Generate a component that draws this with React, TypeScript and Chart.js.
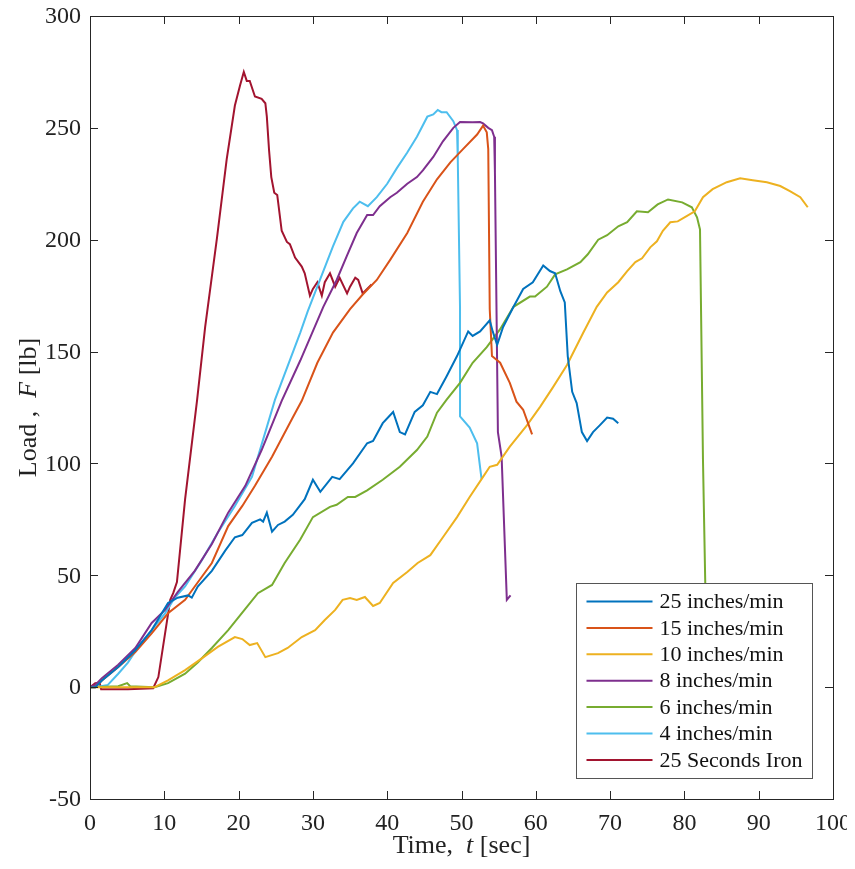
import React, { useEffect, useRef } from "react";
import { Chart, registerables } from "chart.js";

Chart.register(...registerables);

const seriesLabels = [
  "25 inches/min",
  "15 inches/min",
  "10 inches/min",
  "8 inches/min",
  "6 inches/min",
  "4 inches/min",
  "25 Seconds Iron",
];

const seriesColors = ["#0072BD", "#D95319", "#EDB120", "#7E2F8E", "#77AC30", "#4DBEEE", "#A2142F"];

const xTickValues = [0, 10, 20, 30, 40, 50, 60, 70, 80, 90, 100];
const yTickValues = [-50, 0, 50, 100, 150, 200, 250, 300];

const load25: [number, number][] = [
  [0, 0], [0.7, 0], [1.6, 3], [3.8, 9], [6.1, 16.5], [8.3, 25.5], [10.5, 37.6], [11.8, 40], [13.2, 41], [13.7, 40],
  [14.5, 45], [16.4, 52], [18.2, 61], [19.5, 67], [20.5, 68], [21.8, 73.4], [22.9, 75], [23.3, 74], [23.8, 78],
  [24.5, 69.5], [25.3, 72.5], [26.2, 74], [27.3, 77], [28.9, 84], [30, 92.7], [31, 87.3], [32.6, 94], [33.6, 93],
  [35.4, 100], [37.3, 109], [38.1, 110], [39.4, 118], [40.8, 123], [41.7, 114], [42.4, 113], [43.7, 123], [44.8, 126],
  [45.8, 132], [46.7, 131], [48, 139], [49.4, 148], [50.9, 159], [51.5, 157], [52.5, 159], [53.8, 164], [54.2, 159],
  [54.8, 153], [55.6, 161], [57, 170], [58.3, 178], [59.6, 181], [61, 188.5], [61.9, 186], [62.6, 185], [63.3, 177],
  [63.9, 172], [64.3, 148], [64.9, 132], [65.5, 127], [66.2, 114], [66.9, 110], [67.7, 114], [68.6, 117], [69.6, 120.5],
  [70.4, 120], [71.1, 118],
];

const load15: [number, number][] = [
  [0, 0], [0.7, 0], [1.6, 3], [3.8, 9], [6.1, 15.7], [8.3, 24], [10.5, 33], [12.8, 39], [14.1, 45], [16.4, 55.5],
  [18.6, 72], [20.5, 81], [22.2, 90], [24.5, 103], [27.2, 120], [28.5, 128], [30.6, 145], [32.7, 158.5], [35, 169],
  [36.7, 175.5], [38.6, 182], [40.4, 191], [42.7, 203], [44.8, 217], [46.7, 227], [48.5, 234.6], [50.2, 240.5],
  [52.1, 247], [52.9, 251], [53.4, 248], [53.6, 240.5], [53.8, 169], [54.1, 148], [55.2, 145], [56.5, 136],
  [57.4, 127.6], [58.3, 124], [59.5, 113],
];

const load10: [number, number][] = [
  [0, 0], [8.7, 0], [10.5, 3], [12.8, 7.6], [15.1, 13], [17.2, 18], [19.5, 22.4], [20.5, 21.5], [21.5, 18.8],
  [22.5, 19.7], [23.6, 13.4], [25.3, 15.2], [26.6, 17.5], [28.5, 22.4], [30.3, 25.5], [31.6, 30], [33, 34.5], [34, 39],
  [35, 39.8], [35.9, 39], [37, 40.3], [38.1, 36.3], [39, 37.6], [40.8, 46.6], [42.7, 51.5], [44.1, 55.5], [45.8, 59],
  [47.5, 67], [49.4, 76], [51.1, 85], [52.9, 94], [53.8, 98.5], [54.8, 99.4], [56.5, 107.5], [58.8, 117], [60.6, 125.4],
  [62.3, 134], [64.2, 144], [66.4, 158.5], [68.2, 170], [69.6, 176.4], [71.1, 181], [72.3, 186], [73.4, 190],
  [74.3, 191.7], [75.4, 196.6], [76.3, 199.3], [77.1, 204], [78.1, 207.8], [79.1, 208.2], [80.3, 210.5], [81.4, 212.7],
  [82.5, 219], [83.8, 222.6], [85.7, 225.7], [87.5, 227.5], [89.2, 226.6], [91.1, 225.7], [92.9, 224], [94.2, 221.7],
  [95.6, 219], [96.6, 214.5],
];

const load8: [number, number][] = [
  [0, 0], [0.7, 1], [1.6, 4], [3.8, 10], [6.1, 17.5], [8.3, 28.7], [10.1, 34.5], [11.8, 42.5], [14.1, 52], [16.4, 64],
  [18.6, 78], [20.9, 90], [23.1, 106], [25.8, 128], [28.3, 146], [31.4, 170], [33.2, 182], [34.6, 193], [35.9, 203],
  [37.3, 211], [38.1, 211], [39, 215], [40.4, 219], [41.3, 221], [42.7, 225], [44, 228], [44.8, 231], [46.2, 237],
  [47.5, 244], [48.9, 250], [49.8, 252.6], [51.5, 252.5], [52.5, 252.6], [52.9, 252], [53.6, 250], [54.1, 249],
  [54.4, 246], [54.5, 230], [54.9, 114], [55.4, 103], [56.1, 39], [56.6, 41],
];

const load6: [number, number][] = [
  [0, 0], [3.8, 0.4], [5, 1.8], [5.4, 0.4], [8.7, 0], [10.5, 1.8], [12.8, 6], [14.5, 11], [16.4, 17.5], [18.6, 25.5],
  [20.9, 35], [22.6, 42], [24.5, 45.7], [26.2, 55.5], [28.3, 66], [30, 76], [32.3, 80.6], [33.2, 81.5], [34.7, 85],
  [35.7, 85], [37.3, 88], [39.4, 92.7], [41.7, 98.5], [44, 106], [45.4, 112], [46.7, 122.7], [48, 128.5], [49.8, 136],
  [51.5, 145], [53.4, 152], [55.2, 160], [57, 170], [59.2, 174.6], [59.9, 174.6], [61.5, 179], [62.6, 184.5],
  [64.2, 186.7], [66, 190], [67, 193.5], [68.4, 200], [69.6, 202], [71.1, 206], [72.3, 207.8], [73.6, 212.7],
  [75.1, 212.3], [76.4, 215.8], [77.8, 218], [79.7, 216.7], [81, 214.5], [81.7, 210], [82.1, 204.6], [82.5, 101.6],
  [82.8, 48], [83, 0],
];

const load4: [number, number][] = [
  [0, 0], [0.7, 0], [2.4, 1], [3.8, 6], [5.1, 11], [6.5, 18], [8.3, 25.5], [10.1, 33], [11.4, 40], [12.8, 45],
  [15.1, 57], [17.2, 69], [19.5, 81], [21.8, 94], [24.9, 128.5], [28.3, 158.5], [29.3, 168], [32.7, 197], [34.1, 208],
  [35.4, 214], [36.3, 217], [37.4, 215], [38.6, 219], [40, 225], [41.3, 232], [42.7, 239], [44, 246], [45.4, 255],
  [46.2, 256], [46.8, 258], [47.3, 257], [48, 257], [48.9, 253], [49.4, 249], [49.5, 236], [49.8, 170], [49.8, 121],
  [51.1, 116], [52.1, 109], [52.7, 93],
];

const loadIron: [number, number][] = [
  [0, 0], [0.7, 1.7], [1.3, 1.9], [1.5, -0.9], [5.1, -0.9], [8.5, -0.5], [9.2, 4.5], [10.8, 39], [11.2, 42],
  [11.7, 47], [12.8, 84], [14.4, 128], [15.5, 161], [17.1, 201], [18.4, 236], [19.5, 260], [20.2, 269], [20.7, 275],
  [21.1, 271], [21.5, 271], [22.2, 264], [23.1, 263], [23.6, 261], [23.8, 255], [24.1, 240], [24.4, 228], [24.8, 221],
  [25.2, 220], [25.8, 204], [26.5, 199], [26.9, 198], [27.6, 192], [28.5, 188], [28.9, 185], [29.6, 175], [30, 178],
  [30.6, 181], [31.2, 175], [31.6, 181], [32.3, 185], [33, 179], [33.6, 183], [34.6, 176], [35, 179], [35.7, 183],
  [36.1, 182], [36.7, 176], [37.9, 180],
];

const allSeries = [load25, load15, load10, load8, load6, load4, loadIron];

const AXIS_COLOR = "#262626";
const TEXT_COLOR = "#222222";
const FONT = "'Liberation Serif', 'Times New Roman', serif";

const framePlugin = {
  id: "matlabFrame",
  afterDatasetsDraw(chart: any) {
    const { ctx, chartArea: a, scales } = chart;
    ctx.save();
    ctx.strokeStyle = AXIS_COLOR;
    ctx.lineWidth = 1;
    ctx.beginPath();
    const tl = 8;
    for (const v of xTickValues) {
      const px = Math.round(scales.x.getPixelForValue(v)) + 0.5;
      ctx.moveTo(px, a.bottom);
      ctx.lineTo(px, a.bottom - tl);
      ctx.moveTo(px, a.top);
      ctx.lineTo(px, a.top + tl);
    }
    for (const v of yTickValues) {
      const py = Math.round(scales.y.getPixelForValue(v)) + 0.5;
      ctx.moveTo(a.left, py);
      ctx.lineTo(a.left + tl, py);
      ctx.moveTo(a.right, py);
      ctx.lineTo(a.right - tl, py);
    }
    ctx.stroke();
    ctx.strokeRect(Math.round(a.left) + 0.5, Math.round(a.top) + 0.5, Math.round(a.right - a.left), Math.round(a.bottom - a.top));

    // tick labels
    ctx.fillStyle = TEXT_COLOR;
    ctx.font = `24px ${FONT}`;
    ctx.textBaseline = "middle";
    ctx.textAlign = "center";
    for (const v of xTickValues) {
      ctx.fillText(String(v), scales.x.getPixelForValue(v), a.bottom + 25);
    }
    ctx.textAlign = "right";
    for (const v of yTickValues) {
      ctx.fillText(String(v), a.left - 9, scales.y.getPixelForValue(v) + 1);
    }

    // legend
    const w = 236;
    const h = 195;
    const bx = Math.round(a.right - 21 - w) + 0.5;
    const by = Math.round(a.bottom - 21 - h) + 0.5;
    ctx.fillStyle = "#ffffff";
    ctx.fillRect(bx, by, w, h);
    ctx.strokeStyle = "#555555";
    ctx.lineWidth = 1;
    ctx.strokeRect(bx, by, w, h);
    ctx.font = `22px ${FONT}`;
    ctx.textBaseline = "middle";
    ctx.textAlign = "left";
    seriesLabels.forEach((lab, i) => {
      const y = by + 18 + i * 26.4;
      ctx.strokeStyle = seriesColors[i];
      ctx.lineWidth = 2;
      ctx.beginPath();
      ctx.moveTo(bx + 10, y);
      ctx.lineTo(bx + 76, y);
      ctx.stroke();
      ctx.fillStyle = "#111111";
      ctx.fillText(lab, bx + 83, y + 1);
    });
    ctx.restore();
  },
  afterDraw(chart: any) {
    const { ctx, chartArea: a } = chart;
    ctx.save();
    ctx.fillStyle = TEXT_COLOR;
    ctx.textBaseline = "alphabetic";
    ctx.textAlign = "left";
    const normal = `26px ${FONT}`;
    const italic = `italic 26px ${FONT}`;
    const drawParts = (parts: [string, string][], cx: number, cy: number) => {
      let total = 0;
      for (const [t, f] of parts) {
        ctx.font = f;
        total += ctx.measureText(t).width;
      }
      let x = cx - total / 2;
      for (const [t, f] of parts) {
        ctx.font = f;
        ctx.fillText(t, x, cy);
        x += ctx.measureText(t).width;
      }
    };
    const cx = (a.left + a.right) / 2;
    drawParts([["Time,  ", normal], ["t", italic], [" [sec]", normal]], cx, a.bottom + 54);
    ctx.translate(28, (a.top + a.bottom) / 2);
    ctx.rotate(-Math.PI / 2);
    drawParts([["Load ,  ", normal], ["F", italic], [" [lb]", normal]], 0, 0);
    ctx.restore();
  },
};

export default function App() {
  const canvasRef = useRef<HTMLCanvasElement | null>(null);

  useEffect(() => {
    if (!canvasRef.current) return;
    const chart = new Chart(canvasRef.current, {
      type: "line",
      data: {
        datasets: allSeries.map((s, i) => ({
          label: seriesLabels[i],
          data: s.map(([x, y]) => ({ x, y })),
          borderColor: seriesColors[i],
          backgroundColor: seriesColors[i],
          borderWidth: 2,
          pointRadius: 0,
          tension: 0,
          fill: false,
        })),
      },
      options: {
        animation: false,
        responsive: false,
        maintainAspectRatio: false,
        devicePixelRatio: 1,
        layout: { padding: { top: 8, right: 22, left: 0, bottom: 0 } },
        plugins: {
          legend: { display: false },
          tooltip: { enabled: false },
        },
        scales: {
          x: {
            type: "linear",
            min: 0,
            max: 100,
            afterFit: (scale: any) => {
              scale.height = 62;
            },
            grid: { display: false, drawTicks: false },
            border: { display: false },
            ticks: { display: false },
          },
          y: {
            type: "linear",
            min: -50,
            max: 300,
            afterFit: (scale: any) => {
              scale.width = 82;
            },
            grid: { display: false, drawTicks: false },
            border: { display: false },
            ticks: { display: false },
          },
        },
      },
      plugins: [framePlugin],
    });
    return () => chart.destroy();
  }, []);

  return (
    <div style={{ width: 847, height: 853 }}>
      <canvas ref={canvasRef} width={847} height={853} style={{ display: "block", width: 847, height: 853 }} />
    </div>
  );
}
